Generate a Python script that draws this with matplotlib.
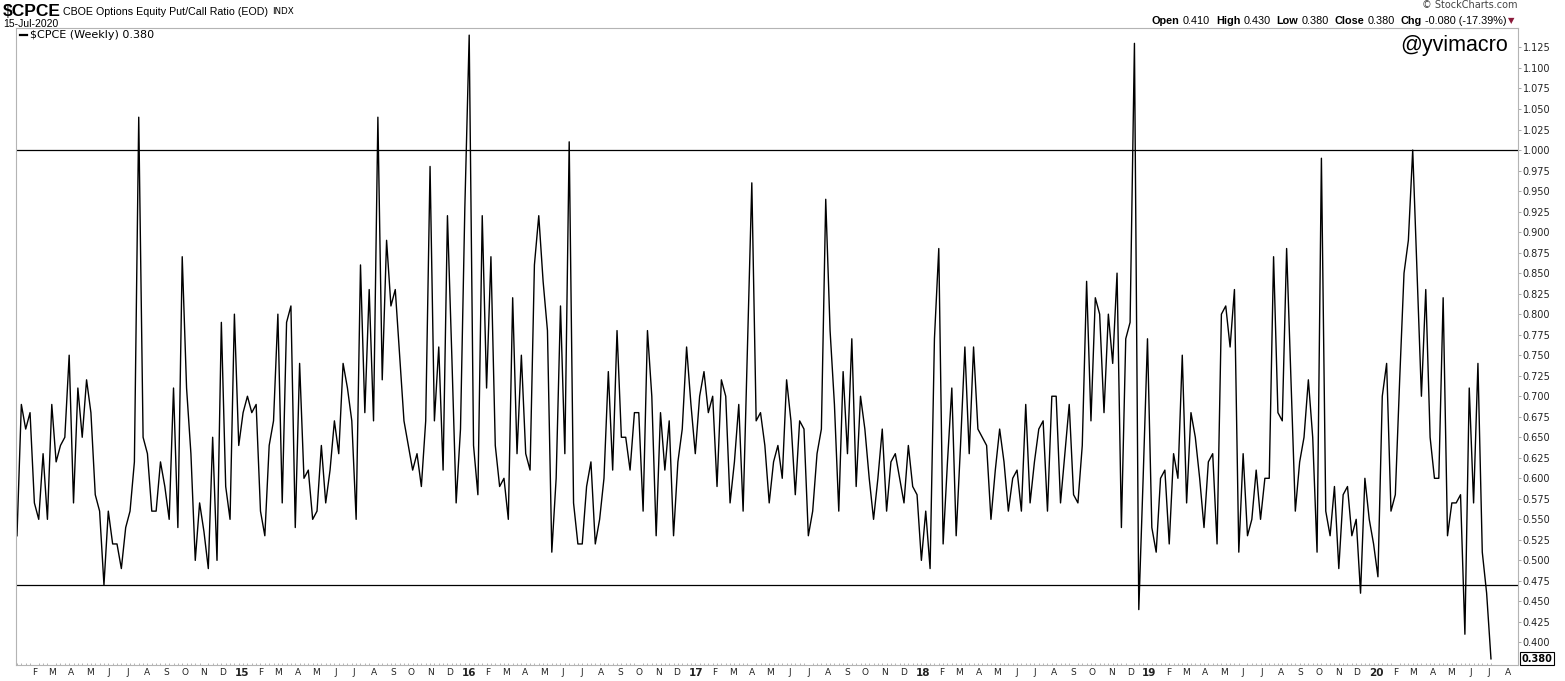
import matplotlib
matplotlib.use("Agg")
import matplotlib.pyplot as plt
import matplotlib.dates as mdates
from matplotlib.lines import Line2D
import numpy as np
import pandas as pd

W, H = 1565, 681

# weekly $CPCE closes (late Jan 2014 -> mid Jul 2020)
cpce = [
    0.53, 0.69, 0.66, 0.68, 0.57, 0.55, 0.63, 0.55, 0.69, 0.62, 0.64, 0.65,
    0.75, 0.57, 0.71, 0.65, 0.72, 0.68, 0.58, 0.56, 0.47, 0.56, 0.52, 0.52,
    0.49, 0.54, 0.56, 0.62, 1.04, 0.65, 0.63, 0.56, 0.56, 0.62,
    0.59, 0.55, 0.71, 0.54, 0.87, 0.71, 0.63, 0.50, 0.57, 0.535, 0.49, 0.65,
    0.50, 0.79, 0.59, 0.55, 0.80, 0.64, 0.68, 0.70, 0.68, 0.69, 0.56, 0.53,
    0.64, 0.67, 0.80, 0.57, 0.79, 0.81, 0.54, 0.74, 0.60, 0.61, 0.55, 0.56,
    0.64, 0.57, 0.61, 0.67, 0.63, 0.74, 0.71, 0.67, 0.55, 0.86, 0.68, 0.83,
    0.67, 1.04, 0.72, 0.89, 0.81, 0.83, 0.75, 0.67, 0.64, 0.61, 0.63, 0.59,
    0.67, 0.98, 0.67, 0.76, 0.61, 0.92, 0.75, 0.57, 0.66, 0.93, 1.14,
    0.64, 0.58, 0.92, 0.71, 0.87, 0.64, 0.59, 0.60, 0.55, 0.82, 0.63, 0.75,
    0.63, 0.61, 0.86, 0.92, 0.84, 0.78, 0.51, 0.60, 0.81, 0.63, 1.01, 0.57,
    0.52, 0.52, 0.59, 0.62, 0.52, 0.55, 0.60, 0.73, 0.61, 0.78,
    0.65, 0.65, 0.61, 0.68, 0.68, 0.56, 0.78, 0.70, 0.53, 0.68, 0.61, 0.67,
    0.53, 0.62, 0.66, 0.76, 0.69, 0.63, 0.70, 0.73, 0.68, 0.70, 0.59, 0.72,
    0.70, 0.57, 0.62, 0.69, 0.56, 0.76, 0.96, 0.67, 0.68, 0.64, 0.57, 0.62,
    0.64, 0.60,
    0.72, 0.67, 0.58, 0.67, 0.66, 0.53, 0.56, 0.63, 0.66, 0.94, 0.78, 0.69,
    0.56, 0.73, 0.63, 0.77, 0.59, 0.70, 0.66, 0.60, 0.55, 0.60, 0.66, 0.56,
    0.62, 0.63, 0.60, 0.57, 0.64, 0.59, 0.58, 0.50, 0.56, 0.49, 0.77, 0.88,
    0.52, 0.62, 0.71, 0.53, 0.64, 0.76, 0.63, 0.76, 0.66, 0.65, 0.64, 0.55,
    0.61, 0.66, 0.62, 0.56, 0.60, 0.61, 0.56, 0.69, 0.57, 0.62, 0.66, 0.67,
    0.56, 0.70, 0.70, 0.57, 0.63, 0.69, 0.58, 0.57, 0.64, 0.84, 0.67,
    0.82, 0.80, 0.68, 0.80, 0.74, 0.85, 0.54, 0.77, 0.79, 1.13, 0.44, 0.60,
    0.77, 0.54, 0.51, 0.60, 0.61, 0.52, 0.63, 0.60, 0.75, 0.57, 0.68, 0.65,
    0.60, 0.54, 0.62, 0.63, 0.52, 0.80, 0.81, 0.76, 0.83, 0.51, 0.63, 0.53,
    0.55, 0.61, 0.55, 0.60, 0.60, 0.87, 0.68, 0.67, 0.88, 0.72, 0.56, 0.62,
    0.65, 0.72, 0.65, 0.51, 0.99, 0.56, 0.53, 0.59, 0.49, 0.58, 0.59, 0.53,
    0.55, 0.46, 0.60, 0.55, 0.52, 0.48, 0.70, 0.74, 0.56, 0.58, 0.72, 0.85,
    0.89, 1.00, 0.85, 0.70, 0.83, 0.65, 0.60, 0.60, 0.82, 0.53, 0.57, 0.57,
    0.58, 0.41, 0.71, 0.57, 0.74, 0.51, 0.46, 0.38,
]
last_week = "2020-07-17"
upper_level = 1.00
lower_level = 0.47
ytick_vals = np.round(np.arange(0.400, 1.1251, 0.025), 3)
month_letters = ["J", "F", "M", "A", "M", "J", "J", "A", "S", "O", "N", "D"]
quote = [("Open", "0.410"), ("High", "0.430"), ("Low", "0.380"),
         ("Close", "0.380"), ("Chg", "-0.080 (-17.39%)")]

dates = pd.date_range(end=last_week, periods=len(cpce), freq="7D")

fig = plt.figure(figsize=(W / 100, H / 100), dpi=100)
ax = fig.add_axes([16 / W, 1 - 665 / H, (1518 - 16) / W, (665 - 28) / H])
renderer = fig.canvas.get_renderer()


def ftext(x, y, s, **kw):
    # place text by figure pixel position (top-left origin)
    return fig.text(x / W, 1 - y / H, s, **kw)


ax.plot(dates, cpce, color="black", lw=1.0)
ax.axhline(upper_level, color="black", lw=0.9)
ax.axhline(lower_level, color="black", lw=0.9)

ax.set_ylim(0.3725, 1.1487)
ax.set_xlim(dates[0] - pd.Timedelta(days=1.6), dates[-1] + pd.Timedelta(days=43.5))

for sp in ax.spines.values():
    sp.set_color("#b4b4b4")
    sp.set_linewidth(0.8)

# right price scale
ax.yaxis.tick_right()
ax.set_yticks(ytick_vals)
ax.set_yticklabels([f"{v:.3f}" for v in ytick_vals], fontsize=7, color="#222222",
                   family="DejaVu Sans")
ax.tick_params(axis="y", length=2, width=0.6, color="#999999", pad=1.5)

# month letters along the bottom, year in bold
months = pd.date_range("2014-02-01", "2020-08-01", freq="MS")
pos = mdates.date2num((months + pd.Timedelta(days=13)).to_pydatetime())
labels = [f"{d.year % 100:02d}" if d.month == 1 else month_letters[d.month - 1] for d in months]
ax.set_xticks(pos)
ax.set_xticklabels(labels, fontsize=6.5, color="#222222", family="DejaVu Sans")
for lbl, d in zip(ax.get_xticklabels(), months):
    if d.month == 1:
        lbl.set_fontweight("bold")
        lbl.set_fontsize(7.5)
ax.set_xticks(mdates.date2num(dates.to_pydatetime()), minor=True)
ax.tick_params(axis="x", which="major", length=0, pad=2)
ax.tick_params(axis="x", which="minor", length=1.5, width=0.6, color="#aaaaaa", direction="in")

# header
ftext(3, 12, "$CPCE", fontsize=12.5, fontweight="bold", family="Liberation Sans", va="center")
t = ftext(63, 12, "CBOE Options Equity Put/Call Ratio (EOD)", fontsize=7.7,
          family="Liberation Sans", va="center")
ftext(t.get_window_extent(renderer).x1 + 4, 12, "INDX", fontsize=6.3,
      family="DejaVu Sans", va="center")
ftext(3, 24, "15-Jul-2020", fontsize=7.5, family="Liberation Sans", va="center")

fig.add_artist(Line2D([20 / W, 27 / W], [1 - 35 / H, 1 - 35 / H], color="black", lw=1.6))
ftext(30, 35, "$CPCE (Weekly) 0.380", fontsize=8, family="DejaVu Sans", va="center")

ftext(1518, 5, "\u00a9 StockCharts.com", fontsize=7, family="DejaVu Sans", color="#444444",
      ha="right", va="center")

x = 1152
for name, val in quote:
    t = ftext(x, 21, name, fontsize=7.8, fontweight="bold", family="Liberation Sans", va="center")
    x = t.get_window_extent(renderer).x1 + 3
    t = ftext(x, 21, val, fontsize=7.8, family="Liberation Sans", va="center")
    x = t.get_window_extent(renderer).x1 + 6
ftext(x - 4, 21, "\u25bc", fontsize=6, color="#8b1a3a", family="DejaVu Sans", va="center")

ftext(1508, 46, "@yvimacro", fontsize=15.5, family="Liberation Sans", ha="right", va="center")

# last value tag
ax.annotate(f"{cpce[-1]:.3f}", xy=(1.0, cpce[-1]), xycoords=("axes fraction", "data"),
            xytext=(2.5, 0), textcoords="offset points", fontsize=7, fontweight="bold",
            family="DejaVu Sans", va="center", ha="left",
            bbox=dict(boxstyle="square,pad=0.15", fc="white", ec="black", lw=0.8),
            annotation_clip=False)

fig.savefig("out.png", dpi=100)
